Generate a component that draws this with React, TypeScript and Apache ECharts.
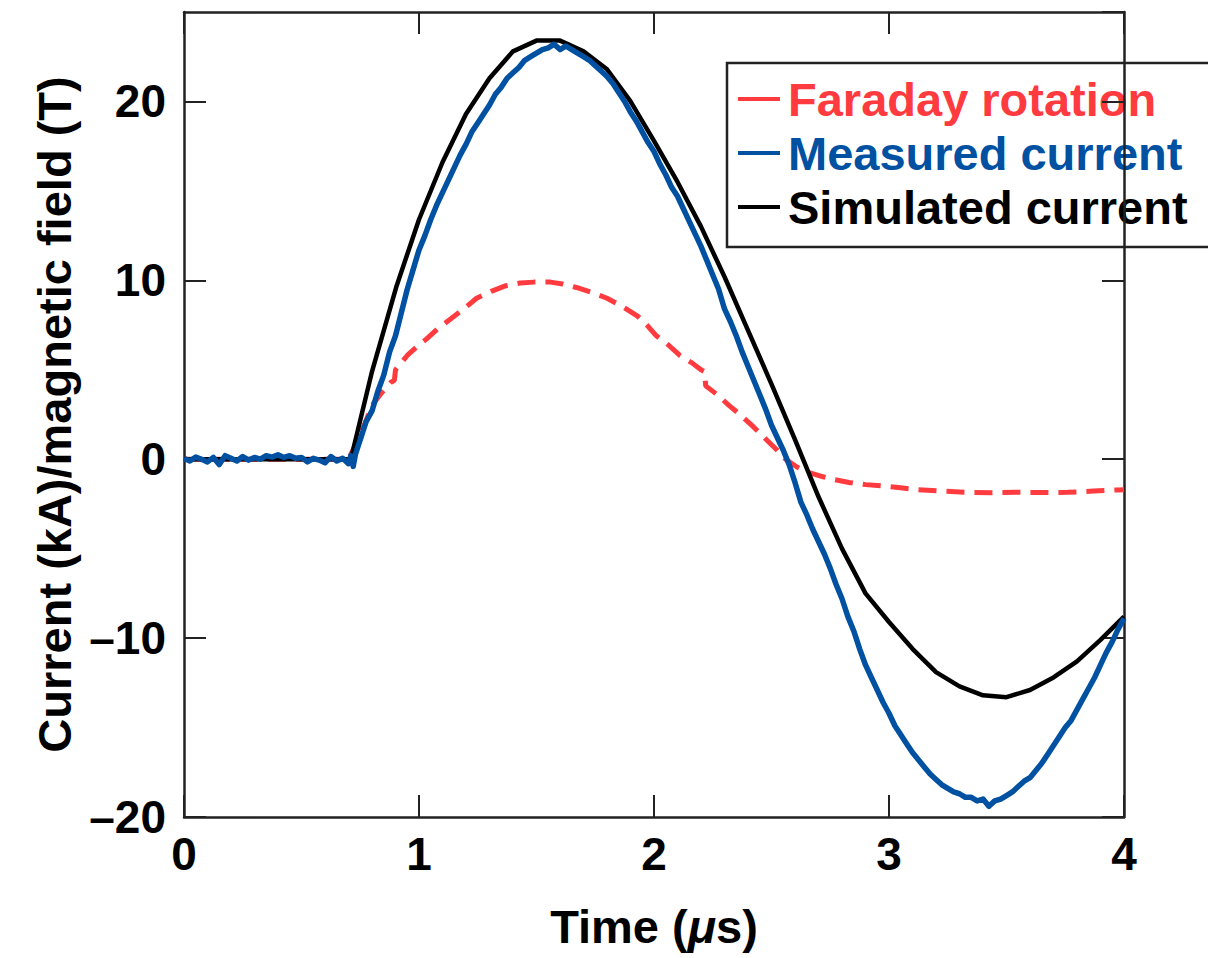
import React, { useEffect, useRef } from "react";
import * as echarts from "echarts";

// ---- Data (time in µs, value in kA / T) ----
const xTicks = [0, 1, 2, 3, 4];
const yTicks = [-20, -10, 0, 10, 20];

const seriesNames = ["Faraday rotation", "Measured current", "Simulated current"];
const seriesColors = ["#ff3b3f", "#0051a2", "#000000"];

const faradayRotation: [number, number][] = [
  [0, 0], [0.3, 0], [0.7, 0], [0.73, 0.8], [0.77, 2.0], [0.8, 3.0], [0.84, 3.7], [0.88, 4.3],
  [0.895, 4.4], [0.9, 5.0], [0.95, 5.8], [1.0, 6.4], [1.03, 6.7], [1.08, 7.3], [1.13, 7.8],
  [1.19, 8.4], [1.245, 9.0], [1.31, 9.4], [1.37, 9.7], [1.43, 9.85], [1.49, 9.9], [1.56, 9.9],
  [1.61, 9.8], [1.67, 9.6], [1.74, 9.3], [1.8, 9.0], [1.87, 8.5], [1.93, 8.0], [1.97, 7.5],
  [2.01, 6.9], [2.06, 6.4], [2.11, 5.8], [2.16, 5.4], [2.2, 5.0], [2.215, 4.9], [2.22, 4.1],
  [2.27, 3.6], [2.32, 3.0], [2.37, 2.45], [2.42, 1.85], [2.47, 1.2], [2.52, 0.56], [2.56, 0.0],
  [2.61, -0.45], [2.66, -0.75], [2.71, -0.95], [2.77, -1.15], [2.83, -1.3], [2.9, -1.42],
  [2.98, -1.5], [3.05, -1.6], [3.12, -1.7], [3.22, -1.78], [3.33, -1.85], [3.44, -1.87],
  [3.54, -1.85], [3.65, -1.86], [3.76, -1.85], [3.87, -1.78], [3.97, -1.72], [4.0, -1.7],
];

const measuredCurrent: [number, number][] = [
  [0.0, 0.05], [0.025, -0.1], [0.05, 0.12], [0.075, 0.0], [0.1, -0.15], [0.125, 0.1], [0.15, -0.3],
  [0.175, 0.2], [0.2, 0.05], [0.225, -0.1], [0.25, 0.15], [0.275, -0.05], [0.3, 0.1], [0.325, 0.0],
  [0.35, 0.2], [0.375, 0.12], [0.4, 0.25], [0.425, 0.1], [0.45, 0.2], [0.475, 0.05], [0.5, 0.1],
  [0.525, -0.15], [0.55, 0.05], [0.575, -0.05], [0.6, -0.2], [0.625, 0.15], [0.65, -0.1],
  [0.675, 0.05], [0.7, -0.25], [0.71, 0.2], [0.72, -0.4], [0.73, 0.3], [0.75, 1.1], [0.775, 2.1],
  [0.8, 2.7], [0.825, 3.8], [0.85, 4.7], [0.875, 6.0], [0.9, 6.9], [0.925, 8.2], [0.95, 9.5],
  [0.975, 10.6], [1.0, 11.7], [1.025, 12.5], [1.05, 13.4], [1.075, 14.2], [1.1, 14.9],
  [1.125, 15.6], [1.15, 16.3], [1.175, 17.0], [1.2, 17.6], [1.225, 18.3], [1.25, 18.8],
  [1.275, 19.3], [1.3, 19.8], [1.325, 20.4], [1.35, 20.8], [1.375, 21.3], [1.4, 21.6],
  [1.425, 21.9], [1.45, 22.3], [1.475, 22.5], [1.5, 22.7], [1.525, 22.9], [1.55, 23.0],
  [1.575, 23.2], [1.6, 22.9], [1.625, 23.1], [1.65, 22.9], [1.675, 22.7], [1.7, 22.5],
  [1.725, 22.3], [1.75, 22.0], [1.775, 21.7], [1.8, 21.4], [1.825, 21.0], [1.85, 20.5],
  [1.875, 20.0], [1.9, 19.4], [1.925, 18.9], [1.95, 18.3], [1.975, 17.7], [2.0, 17.2],
  [2.025, 16.5], [2.05, 15.9], [2.075, 15.2], [2.1, 14.7], [2.125, 14.0], [2.15, 13.3],
  [2.175, 12.6], [2.2, 11.9], [2.225, 11.1], [2.25, 10.3], [2.275, 9.5], [2.3, 8.4],
  [2.325, 7.7], [2.35, 6.9], [2.375, 6.0], [2.4, 5.2], [2.425, 4.4], [2.45, 3.6], [2.475, 2.8],
  [2.5, 1.9], [2.525, 1.2], [2.55, 0.5], [2.575, -0.3], [2.6, -1.3], [2.625, -2.4],
  [2.65, -3.1], [2.675, -3.9], [2.7, -4.6], [2.725, -5.3], [2.75, -6.1], [2.775, -7.0],
  [2.8, -7.8], [2.825, -8.8], [2.85, -9.6], [2.875, -10.6], [2.9, -11.5], [2.925, -12.2],
  [2.95, -12.9], [2.975, -13.6], [3.0, -14.2], [3.025, -14.9], [3.05, -15.4], [3.075, -15.9],
  [3.1, -16.4], [3.125, -16.8], [3.15, -17.2], [3.175, -17.6], [3.2, -17.9], [3.225, -18.2],
  [3.25, -18.4], [3.275, -18.6], [3.3, -18.7], [3.325, -18.9], [3.35, -18.9], [3.375, -19.1],
  [3.4, -19.0], [3.425, -19.4], [3.45, -19.1], [3.475, -19.0], [3.5, -18.8], [3.525, -18.6],
  [3.55, -18.3], [3.575, -18.0], [3.6, -17.8], [3.625, -17.4], [3.65, -17.0], [3.675, -16.5],
  [3.7, -16.0], [3.725, -15.5], [3.75, -15.0], [3.775, -14.6], [3.8, -14.0], [3.825, -13.4],
  [3.85, -12.8], [3.875, -12.2], [3.9, -11.5], [3.925, -10.8], [3.95, -10.2], [3.975, -9.5],
  [4.0, -8.9],
];

const simulatedCurrent: [number, number][] = [
  [0, 0], [0.71, 0], [0.8, 4.9], [0.905, 9.7], [1.0, 13.4], [1.1, 16.6], [1.2, 19.3],
  [1.3, 21.3], [1.4, 22.8], [1.5, 23.4], [1.6, 23.4], [1.7, 22.8], [1.8, 21.8], [1.9, 20.0],
  [2.0, 17.8], [2.1, 15.5], [2.2, 13.0], [2.3, 10.2], [2.4, 7.2], [2.5, 4.2], [2.6, 1.1],
  [2.7, -2.1], [2.8, -5.0], [2.9, -7.5], [3.0, -9.1], [3.1, -10.6], [3.2, -11.9], [3.3, -12.7],
  [3.4, -13.2], [3.5, -13.3], [3.6, -12.9], [3.7, -12.2], [3.8, -11.3], [3.9, -10.1], [4.0, -8.8],
];

const FONT = "'Liberation Sans', Arial, Helvetica, sans-serif";
const AXIS_COLOR = "#222222";

export default function App() {
  const ref = useRef<HTMLDivElement>(null);

  useEffect(() => {
    if (!ref.current) return;
    const chart = echarts.init(ref.current, undefined, { renderer: "svg" });

    const xMin = xTicks[0];
    const xMax = xTicks[xTicks.length - 1];
    const yMin = yTicks[0];
    const yMax = 25;

    const tickStyle = { show: true, inside: true, length: 22, lineStyle: { color: AXIS_COLOR, width: 2 } };
    const lineStyle = { show: true, onZero: false, lineStyle: { color: AXIS_COLOR, width: 2.5 } };

    const legendRows = [99, 153, 207];

    const option: any = {
      animation: false,
      backgroundColor: "#ffffff",
      grid: { left: 184, top: 12, right: 84, bottom: 141, containLabel: false },
      xAxis: [
        {
          type: "value",
          min: xMin,
          max: xMax,
          interval: 1,
          position: "bottom",
          axisLine: lineStyle,
          axisTick: tickStyle,
          splitLine: { show: false },
          axisLabel: {
            show: true,
            margin: 14,
            color: "#000",
            fontFamily: FONT,
            fontWeight: "bold",
            fontSize: 46,
          },
          name: "Time ({i|μ}s)",
          nameLocation: "middle",
          nameGap: 86,
          nameTextStyle: {
            color: "#000",
            fontFamily: FONT,
            fontWeight: "bold",
            fontSize: 47,
            rich: {
              i: { fontFamily: FONT, fontStyle: "italic", fontWeight: "bold", fontSize: 47, color: "#000" },
            },
          },
        },
        {
          type: "value",
          min: xMin,
          max: xMax,
          interval: 1,
          position: "top",
          axisLine: lineStyle,
          axisTick: tickStyle,
          splitLine: { show: false },
          axisLabel: { show: false },
        },
      ],
      yAxis: [
        {
          type: "value",
          min: yMin,
          max: yMax,
          interval: 10,
          position: "left",
          axisLine: lineStyle,
          axisTick: tickStyle,
          splitLine: { show: false },
          axisLabel: {
            show: true,
            margin: 18,
            color: "#000",
            fontFamily: FONT,
            fontWeight: "bold",
            fontSize: 46,
            showMaxLabel: false,
            formatter: (v: number) => (yTicks.indexOf(v) >= 0 ? String(v).replace("-", "–") : ""),
          },
          name: "Current (kA)/magnetic field (T)",
          nameLocation: "middle",
          nameRotate: 90,
          nameGap: 106,
          nameTextStyle: { color: "#000", fontFamily: FONT, fontWeight: "bold", fontSize: 47 },
        },
        {
          type: "value",
          min: yMin,
          max: yMax,
          interval: 10,
          position: "right",
          axisLine: lineStyle,
          axisTick: tickStyle,
          splitLine: { show: false },
          axisLabel: { show: false },
        },
      ],
      series: [
        {
          name: seriesNames[0],
          type: "line",
          data: faradayRotation,
          showSymbol: false,
          symbol: "none",
          lineStyle: { color: seriesColors[0], width: 5, type: [18, 10] },
          z: 2,
        },
        {
          name: seriesNames[2],
          type: "line",
          data: simulatedCurrent,
          showSymbol: false,
          symbol: "none",
          lineStyle: { color: seriesColors[2], width: 4.5 },
          z: 3,
        },
        {
          name: seriesNames[1],
          type: "line",
          data: measuredCurrent,
          showSymbol: false,
          symbol: "none",
          lineStyle: { color: seriesColors[1], width: 5.5, join: "round" },
          z: 4,
        },
      ],
      graphic: [
        {
          type: "group",
          z: 100,
          children: [
            {
              type: "rect",
              shape: { x: 727, y: 63, width: 520, height: 184 },
              style: { fill: "#ffffff", stroke: AXIS_COLOR, lineWidth: 2.5 },
            },
            ...[0, 1, 2].flatMap((i) => [
              {
                type: "line",
                shape: { x1: 738, y1: legendRows[i], x2: 780, y2: legendRows[i] },
                style: { stroke: seriesColors[i], lineWidth: 4 },
              },
              {
                type: "text",
                x: 788,
                y: legendRows[i],
                style: {
                  text: seriesNames[i],
                  fill: seriesColors[i],
                  font: `bold 47px ${FONT}`,
                  textAlign: "left",
                  textVerticalAlign: "middle",
                },
              },
            ]),
          ],
        },
      ],
    };

    chart.setOption(option);
    return () => chart.dispose();
  }, []);

  return (
    <div
      ref={ref}
      style={{ position: "fixed", left: 0, top: 0, width: 1208, height: 958, background: "#fff" }}
    />
  );
}
